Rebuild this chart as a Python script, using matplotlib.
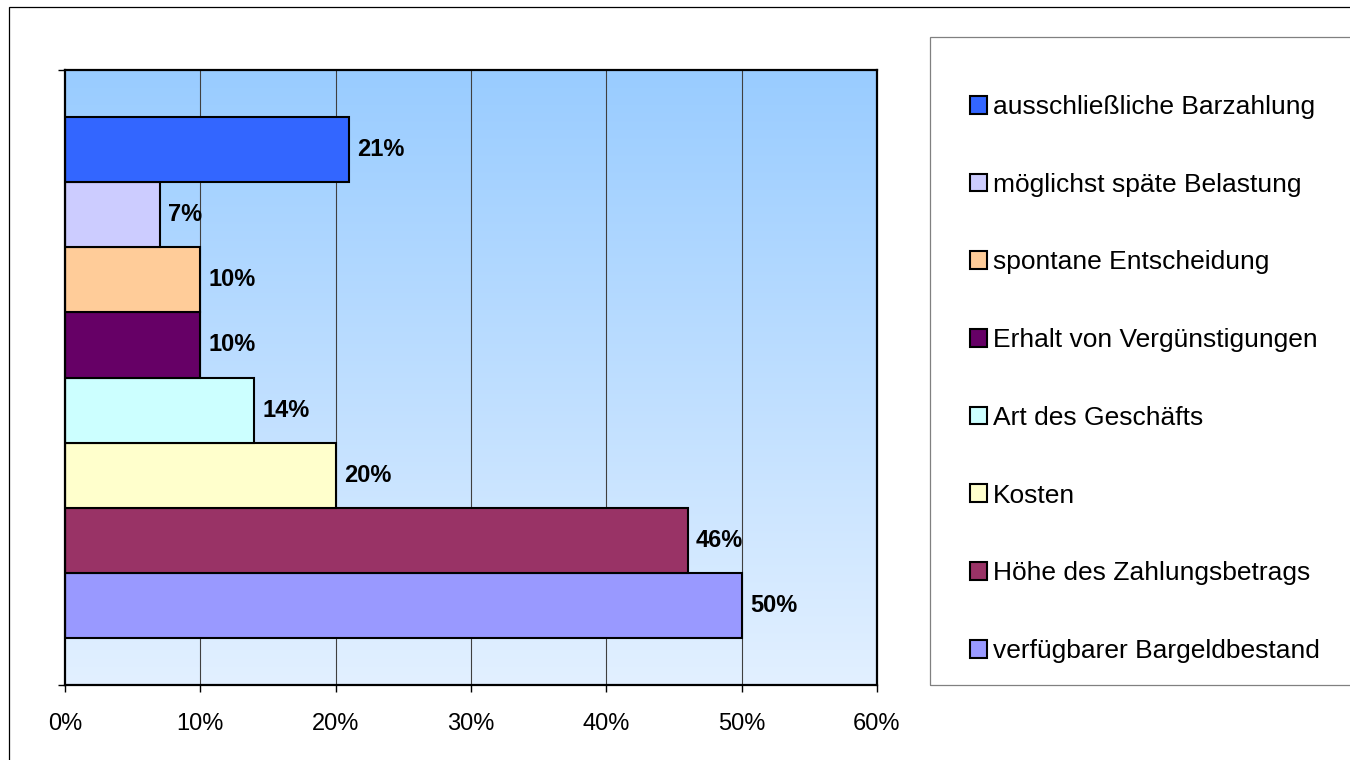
import matplotlib
matplotlib.use("Agg")
import matplotlib.pyplot as plt
import numpy as np
from matplotlib.patches import Rectangle
from matplotlib.colors import LinearSegmentedColormap

plt.rcParams['font.family'] = ['Liberation Sans', 'DejaVu Sans']

# Data (bottom to top)
categories = ["verfügbarer Bargeldbestand", "Höhe des Zahlungsbetrags", "Kosten",
              "Art des Geschäfts", "Erhalt von Vergünstigungen", "spontane Entscheidung",
              "möglichst späte Belastung", "ausschließliche Barzahlung"]
values = [50, 46, 20, 14, 10, 10, 7, 21]
colors = ["#9999FF", "#993366", "#FFFFCC", "#CCFFFF", "#660066", "#FFCC99",
          "#CCCCFF", "#3366FF"]
xticks = [0, 10, 20, 30, 40, 50, 60]
xticklabels = ["0%", "10%", "20%", "30%", "40%", "50%", "60%"]

W, H = 1350, 760
fig = plt.figure(figsize=(W / 100, H / 100), dpi=100)

# outer chart border
fig.patches.append(Rectangle((9 / W, -0.1), 1.2, 1 - 7 / H + 0.1, transform=fig.transFigure,
                             fill=False, edgecolor="#000000", linewidth=0.9))

ax = fig.add_axes([65 / W, 1 - 685 / H, (877 - 65) / W, (685 - 70) / H])

ylo, yhi = -1.23, 8.23
ax.set_xlim(0, 60)
ax.set_ylim(ylo, yhi)

# gradient background
cmap = LinearSegmentedColormap.from_list("bg", ["#E2F0FF", "#99CCFF"])
grad = np.linspace(0, 1, 256).reshape(-1, 1)
ax.imshow(grad, extent=[0, 60, ylo, yhi], origin="lower", aspect="auto",
          cmap=cmap, zorder=0)

for xv in xticks[1:-1]:
    ax.axvline(xv, color="#404040", linewidth=0.8, zorder=1)

ypos = np.arange(len(values))
bars = ax.barh(ypos, values, height=1.0, color=colors, edgecolor="black",
               linewidth=1.5, zorder=2)
for b, v in zip(bars, values):
    ax.annotate(f"{v}%", (v, b.get_y() + b.get_height() / 2), xytext=(6, 0),
                textcoords="offset points", ha="left", va="center",
                fontsize=17, fontweight="bold", zorder=3)

for s in ax.spines.values():
    s.set_linewidth(1.6)
    s.set_color("black")
    s.set_zorder(4)

ax.set_xticks(xticks)
ax.set_xticklabels(xticklabels, fontsize=17)
ax.set_yticks([ylo, yhi])
ax.set_yticklabels([])
ax.tick_params(axis="both", direction="out", length=5, width=1.0, color="black")
ax.tick_params(axis="x", pad=15)

# legend box
fig.patches.append(Rectangle((930 / W, 1 - 685 / H), 1.0, (685 - 37) / H,
                             transform=fig.transFigure, fill=False,
                             edgecolor="#808080", linewidth=0.9))
handles = list(bars)[::-1]
labels = categories[::-1]
leg = fig.legend(handles, labels, loc="upper left",
                 bbox_to_anchor=(970 / W, 1 - 95 / H), frameon=False,
                 fontsize=19, handlelength=0.66, handleheight=0.66,
                 handletextpad=0.22, labelspacing=2.035, borderpad=0,
                 borderaxespad=0)

fig.savefig("out.png", dpi=100)
